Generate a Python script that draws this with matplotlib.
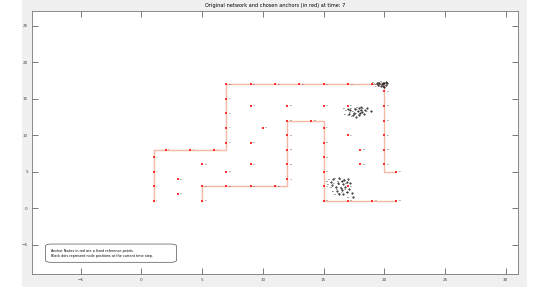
import matplotlib
matplotlib.use('Agg')
import matplotlib.pyplot as plt
from matplotlib.patches import Rectangle, FancyBboxPatch

# network paths (polylines)
path_a_x = [1, 1, 7, 7, 20, 20, 21]
path_a_y = [1, 8, 8, 17, 17, 5, 5]
path_b_x = [5, 5, 12, 12, 15, 15, 21]
path_b_y = [1, 3, 3, 12, 12, 1, 1]

# anchor nodes (red)
anchor_x = [1, 1, 1, 1, 2, 4, 6, 7, 7, 7, 7, 7, 9, 11, 13, 15, 17, 19, 20, 20, 20, 20, 20, 20, 21,
            5, 5, 7, 9, 11, 12, 12, 12, 12, 12, 14, 15, 15, 15, 15, 15, 15, 17, 19, 21,
            3, 3, 5, 7, 9, 9, 9, 10, 12, 15, 17, 17, 18, 18, 17]
anchor_y = [1, 3, 5, 7, 8, 8, 8, 9, 11, 13, 15, 17, 17, 17, 17, 17, 17, 17, 16, 14, 12, 10, 8, 6, 5,
            1, 3, 3, 3, 3, 4, 6, 8, 10, 12, 12, 11, 9, 7, 5, 3, 1, 1, 1, 1,
            4, 2, 6, 5, 6, 9, 14, 11, 14, 14, 14, 10, 8, 6, 3]

# node positions at current time step (black)
node_x = [19.6, 19.8, 20.0, 19.9, 20.1, 19.7, 20.2, 19.5, 20.0, 19.4, 20.1, 19.9,
          17.6, 17.9, 18.1, 17.8, 18.2, 18.4, 17.5, 18.0, 18.3, 17.2, 17.1, 17.4, 17.7, 18.6, 18.9, 17.0, 18.1, 17.9,
          15.8, 16.3, 16.7, 17.0, 16.5, 16.9, 16.2, 16.6, 17.2, 15.7, 16.0, 16.4, 16.8, 17.1, 16.5, 16.1, 16.9, 16.6,
          17.3, 16.3, 17.4, 15.6]
node_y = [17.1, 17.0, 17.1, 16.8, 16.9, 16.7, 17.2, 16.9, 16.6, 17.2, 17.3, 17.2,
          13.6, 13.7, 13.5, 13.3, 13.2, 13.4, 13.1, 13.0, 12.9, 13.4, 12.9, 12.7, 12.5, 13.7, 13.3, 13.6, 13.8, 12.8,
          4.0, 4.1, 3.9, 4.0, 3.7, 3.6, 3.4, 3.3, 3.4, 3.2, 2.9, 2.8, 2.9, 2.6, 2.5, 2.3, 2.2, 2.0,
          2.1, 1.9, 1.5, 3.6]

x_ticks = [-5, 0, 5, 10, 15, 20, 25, 30]
y_ticks = [-5, 0, 5, 10, 15, 20, 25]

title = 'Original network and chosen anchors (in red) at time: 7'
note = ('Anchor Nodes in red are a fixed reference points.\n'
        'Black dots represent node positions at the current time step.')

fig = plt.figure(figsize=(5.5, 2.89), dpi=100, facecolor='white')
fig.patches.append(Rectangle((0.04, 0.007), 0.918, 0.993, transform=fig.transFigure,
                             facecolor='#f0f0f0', edgecolor='none', zorder=-10))
ax = fig.add_axes([0.0582, 0.0519, 0.8836, 0.910])
ax.set_facecolor('white')

line_col = '#f7b9a6'
ax.plot(path_a_x, path_a_y, '-', color=line_col, lw=1.0, zorder=1)
ax.plot(path_b_x, path_b_y, '-', color=line_col, lw=1.0, zorder=1)
ax.plot(anchor_x, anchor_y, 's', color='#ff3030', ms=1.8, mew=0, zorder=3)
for i, (x, y) in enumerate(zip(anchor_x, anchor_y)):
    ax.text(x + 0.2, y, str(i + 1), fontsize=1.6, color='#555555', va='center', zorder=4)

ax.plot(node_x, node_y, '.', color='black', ms=0.9, zorder=5)
for i, (x, y) in enumerate(zip(node_x, node_y)):
    ax.text(x - 0.45, y, str(i + 1), fontsize=1.6, color='#222222', va='center', zorder=5)

ax.set_xlim(-9, 31)
ax.set_ylim(-9, 27)
ax.set_xticks(x_ticks)
ax.set_yticks(y_ticks)
ax.tick_params(direction='in', length=4, width=0.5, labelsize=3, colors='#444444',
               top=True, right=True, pad=3)
for s in ax.spines.values():
    s.set_color('#777777')
    s.set_linewidth(0.6)

ax.set_title(title, fontsize=3.6, pad=3)

ax.text(-7.4, -6.15, note, fontsize=2.4, ha='left', va='center', linespacing=1.3,
        zorder=6)
ax.add_patch(FancyBboxPatch((-7.9, -7.4), 10.8, 2.5, boxstyle='round,pad=0,rounding_size=0.5',
                            facecolor='white', edgecolor='#555555', lw=0.5, zorder=5,
                            mutation_aspect=0.6))

fig.savefig('out.png', dpi=100, facecolor=fig.get_facecolor())
